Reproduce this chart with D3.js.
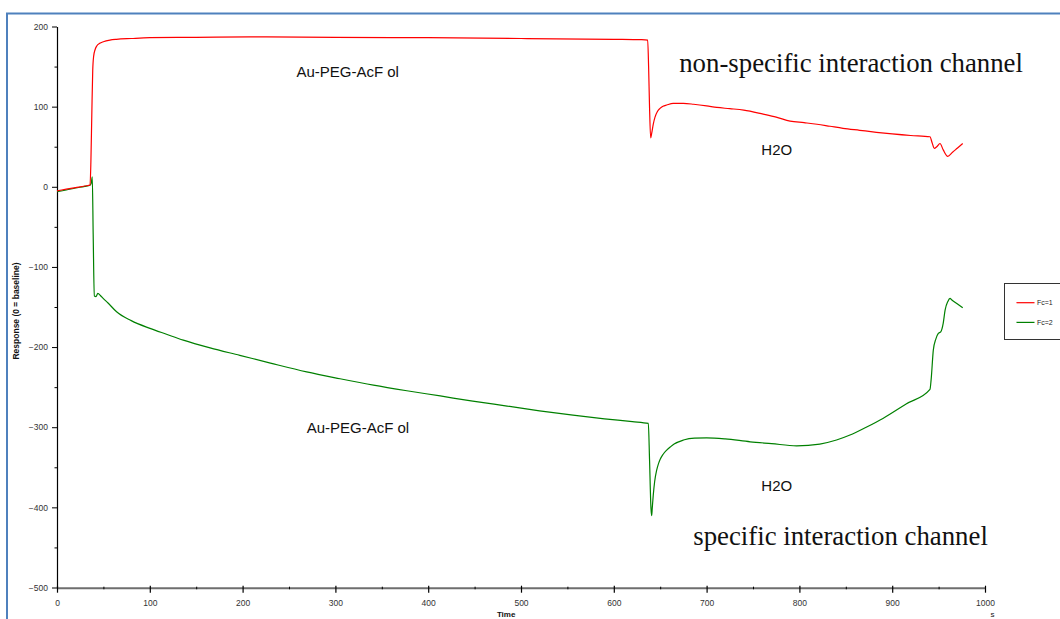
<!DOCTYPE html>
<html>
<head>
<meta charset="utf-8">
<script src="https://cdn.jsdelivr.net/npm/d3@7"></script>
<style>
  html, body { margin: 0; padding: 0; background: #fff; }
  svg { display: block; }
</style>
</head>
<body>
<svg id="chart" width="1060" height="619"></svg>
<script>
// ---- data ----
const fc1Time = [0, 10, 20, 30, 35.6, 36.5, 37.5, 38.5, 39.5, 41, 43, 46, 50, 57, 64, 80, 100, 150, 208, 300, 400, 500, 600, 630, 636.5, 637.5, 638.5, 639.7, 640.8, 642.5, 644.4, 647, 649.8, 653, 657, 664, 675, 686, 700, 711, 725, 740, 761, 775, 790, 805, 819, 833, 847, 865, 883, 900, 920, 940.7, 943, 945.4, 948, 951.5, 955, 959.8, 965, 970, 976];
const fc1Value = [-5, -3, -1, 1, 2, 30, 90, 145, 163, 171, 176, 179, 181, 183, 184, 185, 186, 186.5, 187, 186.5, 186, 185, 184, 183.5, 183, 150, 100, 61, 66.6, 78, 87, 94, 97.8, 100.5, 102, 104, 104, 103, 101, 99, 97.5, 95.7, 90.7, 87, 82, 80, 78, 75.5, 73, 70.5, 68, 66, 64, 62.4, 55, 48, 50, 54, 46, 38, 43, 48, 54];

const fc2Time = [0, 10, 20, 30, 35.6, 37, 38, 39, 40.2, 42, 44, 47, 50, 55, 64.2, 80, 100.2, 118, 136.1, 165, 197, 230, 269, 305, 341, 377, 413, 448, 485, 520, 556, 590, 620, 637.2, 638.5, 640, 640.8, 641.5, 642.5, 644, 646.2, 648, 650, 653, 657, 661, 665, 675, 687, 700, 720, 747, 770, 797, 822, 840, 854.5, 872, 890, 915, 940.7, 942, 944.3, 947, 949.7, 952.3, 955, 957, 960, 962.3, 964, 970, 976];
const fc2Value = [-6, -4, -1.5, 0.5, 2, 5, 12.5, -60, -136.4, -137, -133, -136, -139.5, -145, -156, -167, -176.7, -184, -191.3, -201, -210.3, -220, -231, -239.5, -247.5, -254.5, -261, -267.5, -273.6, -279.5, -284.9, -289.5, -293, -295.3, -340, -400, -410.5, -400, -385, -368, -353.5, -346, -340, -334, -328.6, -324.5, -321, -316, -313.5, -313.2, -314.5, -318.2, -320.5, -323.2, -321, -316, -309.8, -300, -289, -271, -252.8, -240, -203.8, -190, -183, -181, -170, -153.9, -143, -139.3, -141, -146, -151];

const seriesNames = ["Fc=1", "Fc=2"];
const seriesColors = ["#ff0000", "#008000"];
const xTicks = [0, 100, 200, 300, 400, 500, 600, 700, 800, 900, 1000];
const xMinorTicks = [50, 150, 250, 350, 450, 550, 650, 750, 850, 950];
const yTicks = [200, 100, 0, -100, -200, -300, -400, -500];
const yMinorTicks = [150, 50, -50, -150, -250, -350, -450];

const annotations = [
  { text: "Au-PEG-AcF ol", t: 258, v: 137, font: "sans", size: 15 },
  { text: "Au-PEG-AcF ol", t: 269, v: -307, font: "sans", size: 15 },
  { text: "H2O", t: 759, v: 40, font: "sans", size: 15 },
  { text: "H2O", t: 759, v: -380, font: "sans", size: 15 },
  { text: "non-specific interaction channel", t: 670.5, v: 143.5, font: "serif", size: 26.8 },
  { text: "specific interaction channel", t: 685.6, v: -447, font: "serif", size: 26.8 }
];

// ---- drawing ----
const svg = d3.select("#chart");
const SANS = "'Liberation Sans', Arial, sans-serif";
const SERIF = "'Liberation Serif', 'Times New Roman', serif";

const x = d3.scaleLinear().domain([0, 1000]).range([57, 985]);
const y = d3.scaleLinear().domain([-500, 200]).range([587.5, 26.5]);

// outer blue frame
svg.append("rect")
  .attr("x", 7).attr("y", 13.5)
  .attr("width", 1070).attr("height", 620)
  .attr("fill", "none")
  .attr("stroke", "#4f81bd")
  .attr("stroke-width", 2);

// y axis
const yAxis = d3.axisLeft(y).tickValues(yTicks).tickSize(5).tickSizeOuter(0).tickPadding(4)
  .tickFormat(d3.format("d"));
const gy = svg.append("g").attr("transform", "translate(57,0)").call(yAxis);
gy.select(".domain").attr("stroke", "#000").attr("stroke-width", 1.2);
gy.selectAll(".tick line").attr("stroke", "#000");
gy.selectAll(".tick text").attr("font-family", SANS).attr("font-size", 8.5).attr("fill", "#333");
const yMinor = d3.axisLeft(y).tickValues(yMinorTicks).tickSize(2.5).tickSizeOuter(0).tickFormat("");
const gym = svg.append("g").attr("transform", "translate(57,0)").call(yMinor);
gym.select(".domain").remove();
gym.selectAll(".tick line").attr("stroke", "#000");

// x axis
const xAxis = d3.axisBottom(x).tickValues(xTicks).tickSize(5).tickSizeOuter(0).tickPadding(7)
  .tickFormat(d3.format("d"));
const gx = svg.append("g").attr("transform", "translate(0,587.7)").call(xAxis);
gx.select(".domain").attr("stroke", "#6e6e6e").attr("stroke-width", 2);
gx.selectAll(".tick line").attr("stroke", "#000").attr("y1", -2).attr("stroke-width", 1.2);
gx.selectAll(".tick text").attr("font-family", SANS).attr("font-size", 8.5).attr("fill", "#333");
const xMinor = d3.axisBottom(x).tickValues(xMinorTicks).tickSize(1.6).tickSizeOuter(0).tickFormat("");
const gxm = svg.append("g").attr("transform", "translate(0,587.7)").call(xMinor);
gxm.select(".domain").remove();
gxm.selectAll(".tick line").attr("stroke", "#000").attr("y1", -1);

// axis titles
svg.append("text")
  .attr("transform", "translate(19,311) rotate(-90)")
  .attr("text-anchor", "middle")
  .attr("font-family", SANS).attr("font-size", 8.5).attr("font-weight", "bold")
  .attr("fill", "#111")
  .text("Response (0 = baseline)");
svg.append("text")
  .attr("x", x(484)).attr("y", 617)
  .attr("text-anchor", "middle")
  .attr("font-family", SANS).attr("font-size", 8).attr("font-weight", "bold")
  .attr("fill", "#111")
  .text("Time");
svg.append("text")
  .attr("x", x(1008)).attr("y", 617)
  .attr("text-anchor", "middle")
  .attr("font-family", SANS).attr("font-size", 8)
  .attr("fill", "#111")
  .text("s");

// series
const line = d3.line().x(d => x(d[0])).y(d => y(d[1])).curve(d3.curveMonotoneX);
const series = [
  d3.zip(fc2Time, fc2Value),
  d3.zip(fc1Time, fc1Value)
];
const seriesColorOrder = [seriesColors[1], seriesColors[0]];
series.forEach((pts, i) => {
  svg.append("path")
    .datum(pts)
    .attr("fill", "none")
    .attr("stroke", seriesColorOrder[i])
    .attr("stroke-width", 1.2)
    .attr("stroke-linejoin", "round")
    .attr("d", line);
});

// annotations
annotations.forEach(a => {
  svg.append("text")
    .attr("x", x(a.t)).attr("y", y(a.v))
    .attr("font-family", a.font === "serif" ? SERIF : SANS)
    .attr("font-size", a.size)
    .attr("fill", "#111")
    .text(a.text);
});

// legend
const lg = svg.append("g");
lg.append("rect")
  .attr("x", 1004.5).attr("y", 283.5)
  .attr("width", 80).attr("height", 56)
  .attr("fill", "#fff").attr("stroke", "#333").attr("stroke-width", 1);
seriesNames.forEach((name, i) => {
  const ly = 302.7 + i * 19.7;
  lg.append("line")
    .attr("x1", 1016.5).attr("x2", 1034.5)
    .attr("y1", ly).attr("y2", ly)
    .attr("stroke", seriesColors[i]).attr("stroke-width", 1.2);
  lg.append("text")
    .attr("x", 1037).attr("y", ly + 2.5)
    .attr("font-family", SANS).attr("font-size", 7)
    .attr("fill", "#222")
    .text(name);
});
</script>
</body>
</html>
